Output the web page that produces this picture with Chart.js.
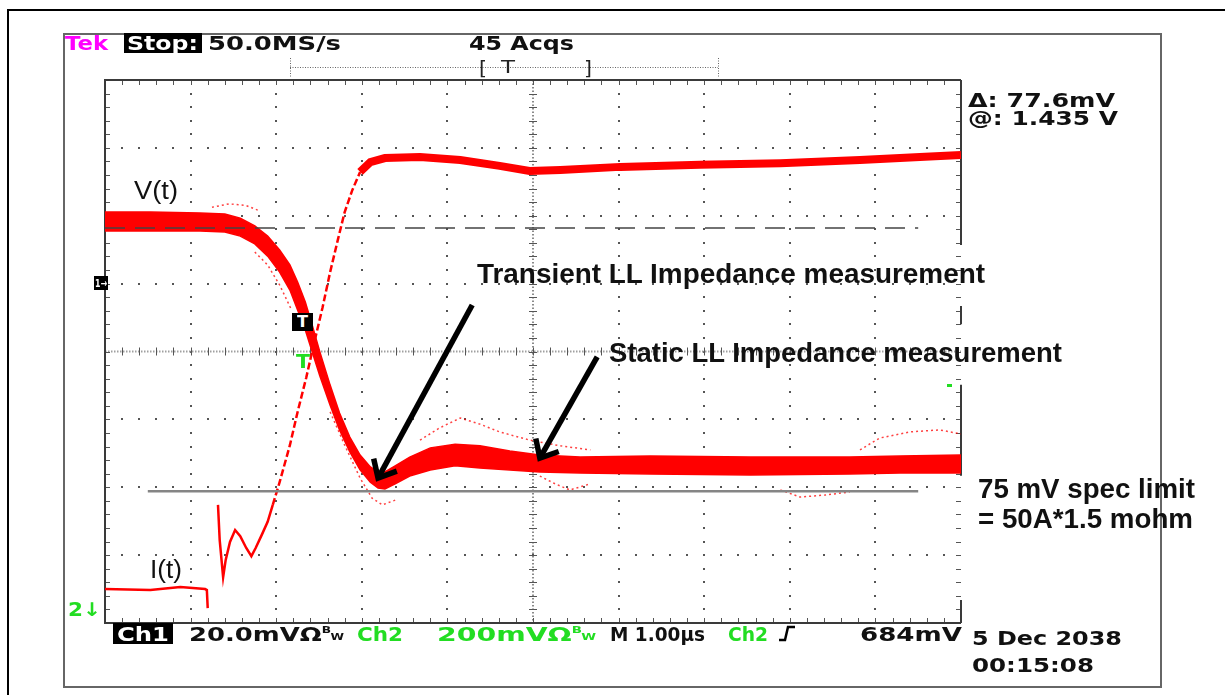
<!DOCTYPE html>
<html>
<head>
<meta charset="utf-8">
<title>Load-line transient</title>
<script src="https://cdn.jsdelivr.net/npm/chart.js@4.4.1/dist/chart.umd.min.js"></script>
<style>
html,body{margin:0;background:#fff}
#wrap{position:relative;width:1225px;height:695px;overflow:hidden;background:#fff}
#scope{position:absolute;left:0;top:0}
.outer{position:absolute;left:7px;top:9px;width:1300px;height:800px;box-sizing:border-box;border-left:2px solid #000;border-top:2px solid #000}
.inner{position:absolute;left:63px;top:33px;width:1099px;height:655px;box-sizing:border-box;border:2px solid #666}
.lbl{position:absolute;white-space:nowrap;transform-origin:0 0;line-height:1}
.box{position:absolute;background:#000}
.bw1{font-size:9px;position:relative;top:-8px}
.bw2{font-size:9px;position:relative;top:-1px}
</style>
</head>
<body>
<div id="wrap">
  <div class="outer"></div>
  <div class="inner"></div>
  <canvas id="scope" width="1225" height="695"></canvas>
</div>
<script>
// time base in µs (M 1.00µs, 10 div)
const vTime   = [0, 0.53, 1.11, 1.40, 1.58, 1.75, 1.90, 2.04, 2.16, 2.25, 2.34, 2.42, 2.51, 2.63, 2.74, 2.86, 2.98, 3.10, 3.19, 3.27, 3.39, 3.56, 3.80, 4.09, 4.38, 4.73, 5.08, 5.55, 6.37, 7.54, 8.70, 9.29, 10];
// Ch1 V(t) persistence band, mV (20 mV/div, 0 = screen centre)
const vTop    = [41.1, 41.1, 40.8, 40.5, 39.3, 37.0, 34.0, 29.9, 25.5, 20.5, 14.6, 7.8, -0.1, -9.9, -18.1, -25.2, -30.5, -34.0, -35.5, -35.5, -33.7, -31.1, -28.4, -27.3, -27.8, -29.3, -30.5, -31.1, -30.8, -31.1, -31.1, -30.8, -30.5];
const vBottom = [35.5, 35.5, 35.5, 35.2, 34.0, 31.7, 28.1, 23.4, 18.1, 12.2, 6.3, -0.1, -7.2, -15.8, -23.1, -29.6, -34.9, -38.5, -40.2, -40.5, -39.0, -36.7, -34.9, -33.7, -34.3, -34.9, -35.5, -35.8, -36.1, -36.4, -36.1, -35.8, -35.8];

// stray acquisitions outside the band (null = gap)
const strayHiTime = [1.25, 1.45, 1.65, 1.80, 1.85, 3.68, 3.91, 4.15, 4.38, 4.61, 4.96, 5.32, 5.67, 5.70, 8.82, 9.05, 9.40, 9.75, 10];
const strayHiMv   = [42.5, 43.5, 43.0, 41.5, null, -26.1, -22.5, -19.6, -21.4, -23.7, -26.1, -27.8, -29.0, null, -29.0, -25.5, -23.7, -23.1, -24.3];
const strayLoTime = [1.75, 1.90, 2.04, 2.18, 2.20, 2.63, 2.80, 2.98, 3.12, 3.24, 3.39, 3.40, 5.08, 5.26, 5.43, 5.67, 5.70, 7.89, 8.12, 8.41, 8.70];
const strayLoMv   = [29.3, 25.5, 19.6, 12.2, null, -17.8, -27.6, -37.3, -43.2, -45.2, -43.8, null, -36.7, -39.0, -40.8, -39.0, null, -40.8, -42.9, -42.3, -41.4];

// Ch2 I(t), mV (200 mV/div, 0 = screen centre)
const iPreTime  = [0, 0.53, 0.88, 1.17, 1.19, 1.20, 1.25, 1.32, 1.34, 1.38, 1.41, 1.46, 1.52, 1.58, 1.65, 1.71, 1.76, 1.83, 1.90, 1.96];
const iPreMv    = [-700, -703, -694, -700, -703, -756, null, -452, -556, -665, -614, -561, -526, -544, -579, -603, -579, -541, -502, -452];
const iEdgeTime = [1.96, 2.04, 2.16, 2.25, 2.35, 2.44, 2.54, 2.63, 2.72, 2.80, 2.89, 2.98];
const iEdgeMv   = [-452, -385, -276, -178, -78, 22, 128, 234, 329, 411, 476, 529];
const iTopTime  = [2.98, 3.10, 3.27, 3.68, 4.15, 4.61, 4.96, 5.32, 6.02, 6.95, 7.89, 8.82, 9.52, 10];
const iTopMv    = [529, 558, 570, 573, 564, 547, 532, 535, 544, 550, 555, 564, 573, 579];

// cursors: Δ 77.6 mV
const cursorHigh  = 36.4;
const cursorDelta = 77.6;
const cursorTime  = [0, 9.5];
const specTime    = [0.5, 9.5];

// annotation arrows [t, mV] tail -> tip
const arrows = [
  {from: [4.29, 13.7], to: [3.19, -37.3]},
  {from: [5.75, -1.6], to: [5.08, -31.4]}
];

// right edge of the graticule is only partly drawn (in divisions from top)
const rightEdge = [[0, 2.43], [3.33, 3.6], [4.49, 5.83], [7.66, 8]];

const RED = '#ff0000';
const pts = (ts, vs) => ts.map((t, i) => ({x: t, y: vs[i]}));

const graticule = {
  id: 'graticule',
  beforeDatasetsDraw(chart) {
    const {ctx, chartArea: a} = chart;
    const dx = (a.right - a.left) / 10, dy = (a.bottom - a.top) / 8;
    const cx = a.left + 5 * dx, cy = a.top + 4 * dy;
    ctx.save();
    ctx.fillStyle = '#555';
    for (let i = 1; i < 10; i++) {
      if (i === 5) continue;
      const x = Math.round(a.left + i * dx);
      for (let j = 1; j < 40; j++) ctx.fillRect(x - 1, Math.round(a.top + j * dy / 5) - 1, 2, 2);
    }
    for (let j = 1; j < 8; j++) {
      if (j === 4) continue;
      const y = Math.round(a.top + j * dy);
      for (let i = 1; i < 50; i++) ctx.fillRect(Math.round(a.left + i * dx / 5) - 1, y - 1, 2, 2);
    }
    // centre lines
    ctx.lineWidth = 2;
    ctx.strokeStyle = '#a0a0a0';
    ctx.setLineDash([1.5, 1.5]);
    ctx.beginPath(); ctx.moveTo(a.left, cy); ctx.lineTo(a.right, cy); ctx.stroke();
    ctx.strokeStyle = '#666';
    ctx.lineWidth = 1.5;
    ctx.setLineDash([1.5, 2]);
    ctx.beginPath(); ctx.moveTo(cx, a.top); ctx.lineTo(cx, a.bottom); ctx.stroke();
    ctx.setLineDash([]);
    // minor ticks
    ctx.strokeStyle = '#555';
    ctx.lineWidth = 1;
    ctx.beginPath();
    for (let i = 1; i < 50; i++) {
      const x = Math.round(a.left + i * dx / 5) + 0.5;
      ctx.moveTo(x, cy - 4); ctx.lineTo(x, cy + 4);
      ctx.moveTo(x, a.top); ctx.lineTo(x, a.top + 5);
      ctx.moveTo(x, a.bottom); ctx.lineTo(x, a.bottom - 5);
    }
    for (let j = 1; j < 40; j++) {
      const y = Math.round(a.top + j * dy / 5) + 0.5;
      ctx.moveTo(cx - 4, y); ctx.lineTo(cx + 4, y);
      ctx.moveTo(a.left, y); ctx.lineTo(a.left + 5, y);
      ctx.moveTo(a.right, y); ctx.lineTo(a.right - 5, y);
    }
    ctx.stroke();
    // frame
    ctx.strokeStyle = '#3a3a3a';
    ctx.lineWidth = 2;
    ctx.beginPath();
    ctx.moveTo(a.right, a.top); ctx.lineTo(a.left, a.top); ctx.lineTo(a.left, a.bottom); ctx.lineTo(a.right, a.bottom);
    rightEdge.forEach(([s, e]) => { ctx.moveTo(a.right, a.top + s * dy); ctx.lineTo(a.right, a.top + e * dy); });
    ctx.stroke();
    ctx.restore();
  }
};

const annotate = {
  id: 'annotate',
  afterDatasetsDraw(chart) {
    const {ctx, scales: {x, y}} = chart;
    ctx.save();
    ctx.strokeStyle = '#000';
    ctx.lineWidth = 5.5;
    ctx.lineJoin = 'miter';
    arrows.forEach(a => {
      const x0 = x.getPixelForValue(a.from[0]), y0 = y.getPixelForValue(a.from[1]);
      const x1 = x.getPixelForValue(a.to[0]), y1 = y.getPixelForValue(a.to[1]);
      const ang = Math.atan2(y1 - y0, x1 - x0);
      ctx.beginPath(); ctx.moveTo(x0, y0); ctx.lineTo(x1, y1); ctx.stroke();
      ctx.beginPath();
      ctx.moveTo(x1 - 20 * Math.cos(ang - 0.72), y1 - 20 * Math.sin(ang - 0.72));
      ctx.lineTo(x1, y1);
      ctx.lineTo(x1 - 20 * Math.cos(ang + 0.72), y1 - 20 * Math.sin(ang + 0.72));
      ctx.stroke();
    });
    ctx.restore();
  },
  afterDraw(chart) {
    const ctx = chart.ctx;
    ctx.save();
    // record view bar
    ctx.strokeStyle = '#666';
    ctx.lineWidth = 1;
    ctx.setLineDash([1, 1.5]);
    ctx.beginPath();
    ctx.moveTo(290, 67.5); ctx.lineTo(718, 67.5);
    ctx.moveTo(290.5, 58); ctx.lineTo(290.5, 77);
    ctx.moveTo(718.5, 58); ctx.lineTo(718.5, 77);
    ctx.stroke();
    ctx.setLineDash([]);
    // trigger slope glyph
    ctx.strokeStyle = '#000';
    ctx.lineWidth = 2.5;
    ctx.beginPath();
    ctx.moveTo(779, 640); ctx.lineTo(785, 640); ctx.lineTo(788, 627); ctx.lineTo(795, 627);
    ctx.stroke();
    ctx.fillStyle = '#22dd22';
    ctx.fillRect(947, 384, 5, 3);
    ctx.restore();
  }
};

new Chart(document.getElementById('scope'), {
  type: 'line',
  data: {
    datasets: [
      {data: pts(specTime, [cursorHigh - cursorDelta, cursorHigh - cursorDelta]), yAxisID: 'y', borderColor: '#858585', borderWidth: 2.5},
      {data: pts(cursorTime, [cursorHigh, cursorHigh]), yAxisID: 'y', borderColor: '#444', borderWidth: 1.5, borderDash: [20, 10]},
      {data: pts(iTopTime, iTopMv), yAxisID: 'y2', borderColor: RED, borderWidth: 8},
      {data: pts(iEdgeTime, iEdgeMv), yAxisID: 'y2', borderColor: RED, borderWidth: 2.5, borderDash: [7, 3]},
      {data: pts(iPreTime, iPreMv), yAxisID: 'y2', borderColor: RED, borderWidth: 2.5},
      {data: pts(vTime, vTop), yAxisID: 'y', borderColor: RED, borderWidth: 1.5},
      {data: pts(vTime, vBottom), yAxisID: 'y', borderColor: RED, borderWidth: 1.5, fill: '-1', backgroundColor: RED},
      {data: pts(strayHiTime, strayHiMv), yAxisID: 'y', borderColor: 'rgba(255,0,0,0.75)', borderWidth: 1.5, borderDash: [2, 3]},
      {data: pts(strayLoTime, strayLoMv), yAxisID: 'y', borderColor: 'rgba(255,0,0,0.75)', borderWidth: 1.5, borderDash: [2, 3]}
    ]
  },
  options: {
    responsive: false,
    animation: false,
    layout: {padding: {left: 105, top: 80, right: 264, bottom: 72}},
    plugins: {legend: {display: false}, tooltip: {enabled: false}},
    elements: {point: {radius: 0}, line: {tension: 0}},
    scales: {
      x: {type: 'linear', min: 0, max: 10, display: false},
      y: {type: 'linear', min: -80, max: 80, display: false},
      y2: {type: 'linear', min: -800, max: 800, display: false}
    }
  },
  plugins: [graticule, annotate]
});

// screen text
const TEK = '"DejaVu Sans", Verdana, sans-serif';
const NOTE = '"Liberation Sans", Arial, sans-serif';
const GREEN = '#22dd22';
const BW = 'Ω<span class="bw1">B</span><span class="bw2">W</span>';
const boxes = [[124, 33, 78, 20], [113, 623, 60, 21], [94, 276, 14, 14], [292, 313, 21, 18]];
const labels = [
  {t: 'Tek', x: 65, b: 50, w: 43, s: 20, f: TEK, wt: 700, c: '#ff00ff'},
  {t: 'Stop:', x: 127, b: 50, w: 71, s: 20, f: TEK, wt: 700, c: '#fff'},
  {t: '50.0MS/s', x: 208, b: 50, w: 133, s: 20, f: TEK, wt: 700, c: '#111'},
  {t: '45 Acqs', x: 469, b: 50, w: 105, s: 20, f: TEK, wt: 700, c: '#111'},
  {t: '[', x: 479, b: 75, w: 8, s: 20, f: TEK, wt: 400, c: '#222'},
  {t: 'T', x: 501, b: 73, w: 14, s: 18, f: TEK, wt: 400, c: '#222'},
  {t: ']', x: 584, b: 75, w: 8, s: 20, f: TEK, wt: 400, c: '#222'},
  {t: 'Δ: 77.6mV', x: 968, b: 107, w: 147, s: 19, f: TEK, wt: 700, c: '#111'},
  {t: '@: 1.435 V', x: 968, b: 125, w: 150, s: 19, f: TEK, wt: 700, c: '#111'},
  {t: 'V(t)', x: 134, b: 199, w: 44, s: 26, f: NOTE, wt: 400, c: '#111'},
  {t: 'I(t)', x: 150, b: 578, w: 32, s: 26, f: NOTE, wt: 400, c: '#111'},
  {t: 'Transient LL Impedance measurement', x: 477, b: 283, w: 508, s: 27.5, f: NOTE, wt: 700, c: '#111'},
  {t: 'Static LL Impedance measurement', x: 609, b: 362, w: 453, s: 27.5, f: NOTE, wt: 700, c: '#111'},
  {t: '75 mV spec limit', x: 978, b: 498, w: 217, s: 27.5, f: NOTE, wt: 700, c: '#111'},
  {t: '= 50A*1.5 mohm', x: 978, b: 528, w: 215, s: 27.5, f: NOTE, wt: 700, c: '#111'},
  {t: 'Ch1', x: 117, b: 641, w: 52, s: 19, f: TEK, wt: 700, c: '#fff'},
  {t: '20.0mV' + BW, x: 189, b: 641, w: 155, s: 19, f: TEK, wt: 700, c: '#111'},
  {t: 'Ch2', x: 357, b: 641, w: 46, s: 19, f: TEK, wt: 700, c: GREEN},
  {t: '200mV' + BW, x: 437, b: 641, w: 159, s: 19, f: TEK, wt: 700, c: GREEN},
  {t: 'M 1.00µs', x: 610, b: 641, w: 95, s: 19, f: TEK, wt: 700, c: '#111'},
  {t: 'Ch2', x: 728, b: 641, w: 40, s: 19, f: TEK, wt: 700, c: GREEN},
  {t: '684mV', x: 860, b: 641, w: 102, s: 19, f: TEK, wt: 700, c: '#111'},
  {t: '5 Dec 2038', x: 972, b: 645, w: 150, s: 19, f: TEK, wt: 700, c: '#111'},
  {t: '00:15:08', x: 972, b: 672, w: 122, s: 19, f: TEK, wt: 700, c: '#111'},
  {t: '2↓', x: 68, b: 616, w: 33, s: 19, f: TEK, wt: 700, c: GREEN},
  {t: '1→', x: 95, b: 287, w: 12, s: 11, f: TEK, wt: 700, c: '#fff'},
  {t: 'T', x: 297, b: 328, w: 11, s: 15, f: TEK, wt: 700, c: '#fff'},
  {t: 'T', x: 296, b: 368, w: 14, s: 19, f: TEK, wt: 700, c: GREEN}
];

const wrap = document.getElementById('wrap');
boxes.forEach(([l, t, w, h]) => {
  const d = document.createElement('div');
  d.className = 'box';
  Object.assign(d.style, {left: l + 'px', top: t + 'px', width: w + 'px', height: h + 'px'});
  wrap.appendChild(d);
});
labels.forEach(o => {
  const d = document.createElement('div');
  d.className = 'lbl';
  d.innerHTML = o.t;
  Object.assign(d.style, {
    left: o.x + 'px', top: (o.b - 0.846 * o.s) + 'px',
    fontFamily: o.f, fontSize: o.s + 'px', fontWeight: o.wt, color: o.c
  });
  wrap.appendChild(d);
  const nat = d.getBoundingClientRect().width;
  if (nat > 0) d.style.transform = `scaleX(${o.w / nat})`;
});
</script>
</body>
</html>
